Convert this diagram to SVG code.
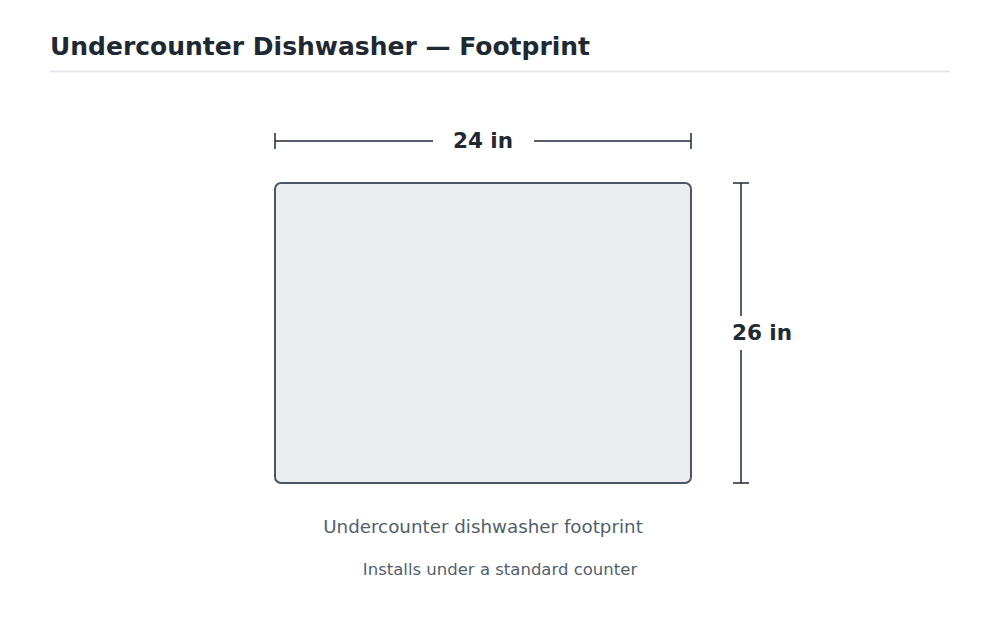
<svg xmlns="http://www.w3.org/2000/svg" width="1000" height="634" viewBox="0 0 1000 634">
<style>
.title{font-family:"DejaVu Sans",sans-serif;font-weight:bold;font-size:25px;fill:#1f2933}
.dim{font-family:"DejaVu Sans",sans-serif;font-weight:bold;font-size:21.5px;fill:#1f2933}
.cap{font-family:"DejaVu Sans",sans-serif;font-size:18.3px;fill:#52606d}
.sub{font-family:"DejaVu Sans",sans-serif;font-size:16.5px;fill:#52606d}
.dl{stroke:#1f2933;stroke-width:1.5;fill:none}
</style>
<rect width="1000" height="634" fill="#ffffff"/>
<g id="header">
<text class="title" x="50" y="55">Undercounter Dishwasher — Footprint</text>
<line x1="50" y1="71.5" x2="950" y2="71.5" stroke="#e4e7eb" stroke-width="2"/>
</g>
<g id="footprint">
<rect x="275" y="183" width="416" height="300" rx="6" fill="#e9edf0" stroke="#4a5663" stroke-width="2"/>
</g>
<g id="connectors">
<line class="dl" x1="275" y1="141" x2="433" y2="141"/>
<line class="dl" x1="534" y1="141" x2="691" y2="141"/>
<line class="dl" x1="275" y1="133" x2="275" y2="149"/>
<line class="dl" x1="691" y1="133" x2="691" y2="149"/>
<line class="dl" x1="741" y1="183" x2="741" y2="316"/>
<line class="dl" x1="741" y1="350" x2="741" y2="483"/>
<line class="dl" x1="733" y1="183" x2="749" y2="183"/>
<line class="dl" x1="733" y1="483" x2="749" y2="483"/>
</g>
<g id="width-label">
<text class="dim" x="483" y="148" text-anchor="middle">24 in</text>
</g>
<g id="depth-label">
<text class="dim" x="762" y="340" text-anchor="middle">26 in</text>
</g>
<g id="captions">
<text class="cap" x="483" y="533" text-anchor="middle">Undercounter dishwasher footprint</text>
<text class="sub" x="500" y="575" text-anchor="middle">Installs under a standard counter</text>
</g>
</svg>
